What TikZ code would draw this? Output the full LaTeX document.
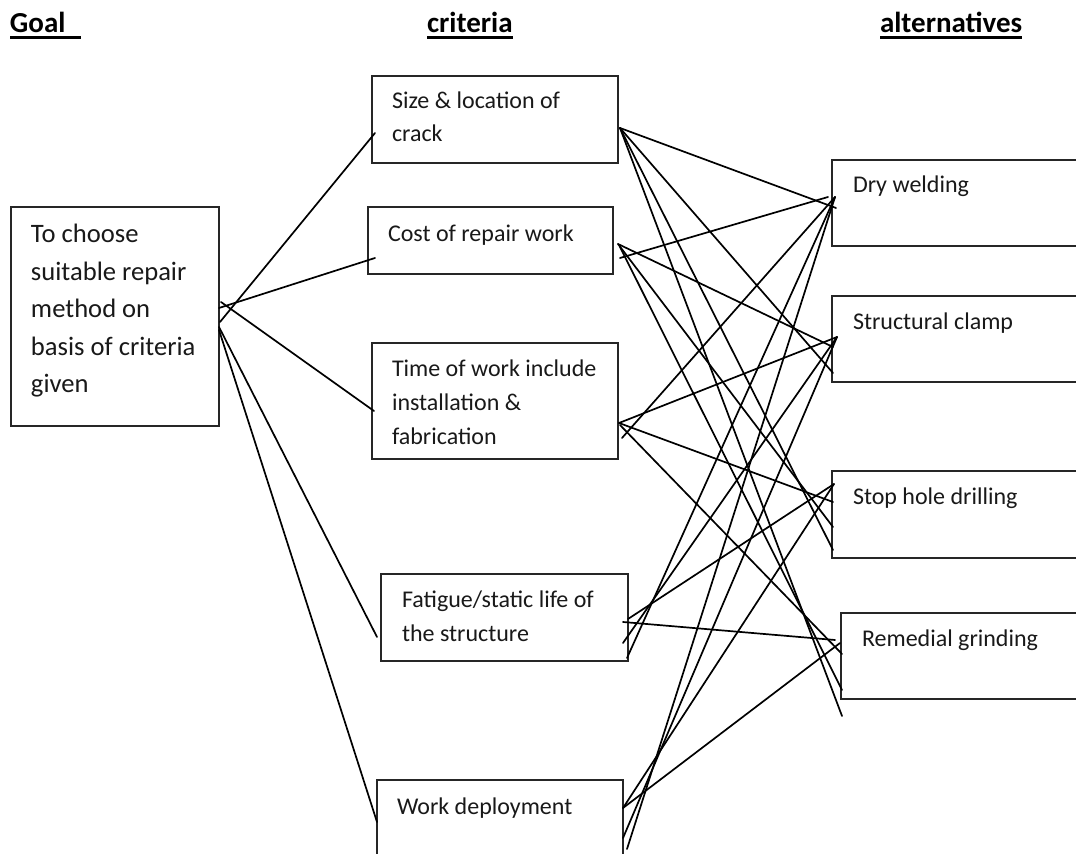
\documentclass[tikz,border=0pt]{standalone}
\usepackage{fontspec}
\setmainfont{Carlito}
\begin{document}
\begin{tikzpicture}[x=0.5pt,y=-0.5pt,
  box/.style={draw=black!85, line width=0.6pt, inner sep=0pt, outer sep=0pt, anchor=north west},
  lbl/.style={anchor=base west, inner sep=0pt, outer sep=0pt, text=black!90},
  head/.style={anchor=base west, inner sep=0pt, outer sep=0pt, font=\bfseries\fontsize{14.5}{16}\selectfont},
  uline/.style={line width=1.3pt},
  link/.style={line width=0.85pt, line cap=round}]
\clip (0,0) rectangle (1076,854);
\fill[white] (0,0) rectangle (1076,854);

% column headings, underlined
\node[head] (hgoal) at (10,33) {Goal\hspace*{7.5pt}};
\node[head] (hcrit) at (427,33) {criteria};
\node[head] (halt) at (880,33) {alternatives};
\foreach \h in {hgoal,hcrit,halt}
  \draw[uline] ([yshift=-2.2pt]\h.base west) -- ([yshift=-2.2pt]\h.base east);

% goal
\node[box, minimum width=104pt, minimum height=109.5pt] (goal) at (11,207) {};
\node[lbl, font=\fontsize{13.3}{18.75}\selectfont] (goaltxt) at (31,243)
  {\begin{tabular}[t]{@{}l@{}}To choose\\suitable repair\\method on\\basis of criteria\\given\end{tabular}};

% criteria
\node[box, minimum width=123pt, minimum height=43.5pt] (size) at (372,76) {};
\node[lbl, font=\fontsize{12}{16.5}\selectfont] (sizetxt) at (392,109)
  {\begin{tabular}[t]{@{}l@{}}Size \& location of\\crack\end{tabular}};

\node[box, minimum width=122.5pt, minimum height=33.5pt] (cost) at (368,207) {};
\node[lbl, font=\fontsize{12}{16.5}\selectfont] (costtxt) at (388,242) {Cost of repair work};

\node[box, minimum width=123pt, minimum height=58pt] (time) at (372,343) {};
\node[lbl, font=\fontsize{12}{17}\selectfont] (timetxt) at (392,377)
  {\begin{tabular}[t]{@{}l@{}}Time of work include\\installation \&\\fabrication\end{tabular}};

\node[box, minimum width=123.5pt, minimum height=43.5pt] (fat) at (381,574) {};
\node[lbl, font=\fontsize{12}{17}\selectfont] (fattxt) at (402,608)
  {\begin{tabular}[t]{@{}l@{}}Fatigue/static life of\\the structure\end{tabular}};

\node[box, minimum width=123pt, minimum height=50pt] (dep) at (377,780) {};
\node[lbl, font=\fontsize{12}{17}\selectfont] (deptxt) at (397,814) {Work deployment};

% alternatives
\node[box, minimum width=130pt, minimum height=43pt] (dry) at (832,160) {};
\node[lbl, font=\fontsize{12}{17}\selectfont] (drytxt) at (853,193) {Dry welding};

\node[box, minimum width=130pt, minimum height=43pt] (clamp) at (832,296) {};
\node[lbl, font=\fontsize{12}{17}\selectfont] (clamptxt) at (853,330) {Structural clamp};

\node[box, minimum width=130pt, minimum height=43.5pt] (stop) at (832,471) {};
\node[lbl, font=\fontsize{12}{17}\selectfont] (stoptxt) at (853,505) {Stop hole drilling};

\node[box, minimum width=126pt, minimum height=43pt] (grind) at (841,613) {};
\node[lbl, font=\fontsize{12}{17}\selectfont] (grindtxt) at (862,647) {Remedial grinding};

% line ends at the goal box
\coordinate (gS) at (220,322);
\coordinate (gC) at (219,308);
\coordinate (gT) at (221,302);
\coordinate (gF) at (219,327);
\coordinate (gD) at (219,330);
% line ends at the criteria boxes (left side)
\coordinate (sizeL) at (375,133);
\coordinate (costL) at (375,258);
\coordinate (timeL) at (374,411);
\coordinate (fatL) at (377,637);
\coordinate (depL) at (377,822);
% line ends at the criteria boxes (right side)
\coordinate (sizeR) at (620,128);
\coordinate (costR1) at (620,258);
\coordinate (costR2) at (618,244);
\coordinate (costR3) at (620,247);
\coordinate (timeR1) at (622,438);
\coordinate (timeR2) at (619,423);
\coordinate (timeR3) at (620,425);
\coordinate (fatR1) at (627,658);
\coordinate (fatR2) at (623,643);
\coordinate (fatR3) at (628,619);
\coordinate (fatR4) at (623,622);
\coordinate (depR1) at (627,849);
\coordinate (depR2) at (623,838);
\coordinate (depR3) at (623,808);
% line ends at the alternatives boxes
\coordinate (dryA) at (836,208);
\coordinate (dryB) at (828,197);
\coordinate (dryC) at (835,197);
\coordinate (clampA) at (833,373);
\coordinate (clampB) at (833,347);
\coordinate (clampC) at (837,337);
\coordinate (stopA) at (833,550);
\coordinate (stopB) at (833,527);
\coordinate (stopC) at (833,502);
\coordinate (stopD) at (834,484);
\coordinate (grindA) at (842,716);
\coordinate (grindB) at (842,690);
\coordinate (grindC) at (842,654);
\coordinate (grindD) at (835,640);
\coordinate (grindE) at (840,643);

% goal to criteria
\draw[link] (gS) -- (sizeL);
\draw[link] (gC) -- (costL);
\draw[link] (gT) -- (timeL);
\draw[link] (gF) -- (fatL);
\draw[link] (gD) -- (depL);

% criteria to alternatives
\draw[link] (sizeR) -- (dryA);
\draw[link] (sizeR) -- (clampA);
\draw[link] (sizeR) -- (stopA);
\draw[link] (sizeR) -- (grindA);

\draw[link] (costR1) -- (dryB);
\draw[link] (costR2) -- (clampB);
\draw[link] (costR2) -- (stopB);
\draw[link] (costR3) -- (grindB);

\draw[link] (timeR1) -- (dryC);
\draw[link] (timeR2) -- (clampC);
\draw[link] (timeR2) -- (stopC);
\draw[link] (timeR3) -- (grindC);

\draw[link] (fatR1) -- (dryC);
\draw[link] (fatR2) -- (clampC);
\draw[link] (fatR3) -- (stopD);
\draw[link] (fatR4) -- (grindD);

\draw[link] (depR1) -- (dryC);
\draw[link] (depR2) -- (clampC);
\draw[link] (depR3) -- (stopD);
\draw[link] (depR3) -- (grindE);
\end{tikzpicture}
\end{document}
